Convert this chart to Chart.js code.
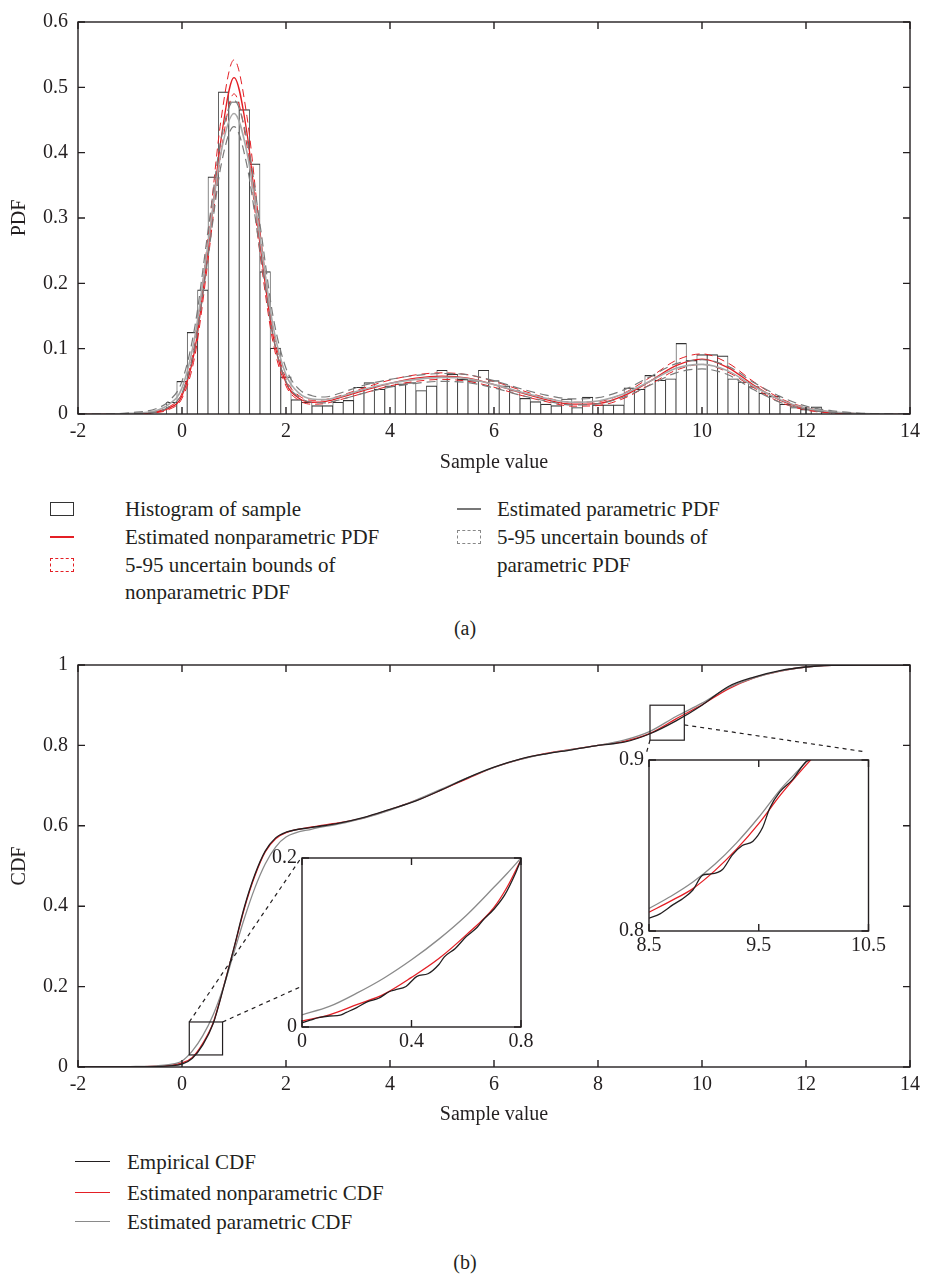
<!DOCTYPE html>
<html>
<head>
<meta charset="utf-8">
<script src="https://cdn.jsdelivr.net/npm/chart.js@4.4.1/dist/chart.umd.min.js"></script>
<style>
    body { margin: 0; background: #fff; }
    #page { position: relative; width: 926px; height: 1278px; font-family: "Liberation Serif", serif; color: #231f20; }
    canvas { position: absolute; }
    .lg { position: absolute; font-size: 21px; line-height: 28px; white-space: nowrap; }
    .sym { position: absolute; box-sizing: border-box; }
    .cap { position: absolute; font-size: 20px; line-height: 24px; width: 926px; left: 2px; text-align: center; }
</style>
</head>
<body>
<div id="page">
    <canvas id="pdfChart" width="926" height="480" style="left:0;top:0"></canvas>
    <canvas id="cdfChart" width="926" height="500" style="left:0;top:640px"></canvas>
    <canvas id="zoomA" width="290" height="215" style="left:252px;top:841px"></canvas>
    <canvas id="zoomB" width="290" height="217" style="left:599px;top:743px"></canvas>

    <!-- legenda (a) -->
    <div class="sym" style="left:50px;top:502px;width:24px;height:14px;border:1.3px solid #333"></div>
    <div class="lg" style="left:125px;top:495px">Histogram of sample</div>
    <div class="sym" style="left:50px;top:536px;width:24px;border-top:2px solid #e41f25"></div>
    <div class="lg" style="left:125px;top:523px">Estimated nonparametric PDF</div>
    <div class="sym" style="left:50px;top:558px;width:24px;height:14px;border:1px dashed #e41f25"></div>
    <div class="lg" style="left:125px;top:551px">5-95 uncertain bounds of</div>
    <div class="lg" style="left:125px;top:578px">nonparametric PDF</div>
    <div class="sym" style="left:457px;top:508px;width:24px;border-top:2px solid #777"></div>
    <div class="lg" style="left:497px;top:495px">Estimated parametric PDF</div>
    <div class="sym" style="left:457px;top:530px;width:24px;height:14px;border:1px dashed #888"></div>
    <div class="lg" style="left:497px;top:523px">5-95 uncertain bounds of</div>
    <div class="lg" style="left:497px;top:551px">parametric PDF</div>
    <div class="cap" style="top:616px">(a)</div>

    <!-- legenda (b) -->
    <div class="sym" style="left:75px;top:1161px;width:35px;border-top:1.5px solid #231f20"></div>
    <div class="lg" style="left:127px;top:1148px">Empirical CDF</div>
    <div class="sym" style="left:75px;top:1192px;width:35px;border-top:1.5px solid #e41f25"></div>
    <div class="lg" style="left:127px;top:1179px">Estimated nonparametric CDF</div>
    <div class="sym" style="left:75px;top:1221px;width:35px;border-top:1.5px solid #8a8a8a"></div>
    <div class="lg" style="left:127px;top:1208px">Estimated parametric CDF</div>
    <div class="cap" style="top:1250px">(b)</div>
</div>

<script>
// histograma (centros das classes de 0.2) e alturas
const binCenters = [-0.2, 0, 0.2, 0.4, 0.6, 0.8, 1, 1.2, 1.4, 1.6, 1.8, 2, 2.2, 2.4, 2.6, 2.8, 3, 3.2, 3.4, 3.6, 3.8, 4,
    4.2, 4.4, 4.6, 4.8, 5, 5.2, 5.4, 5.6, 5.8, 6, 6.2, 6.4, 6.6, 6.8, 7, 7.2, 7.4, 7.6, 7.8, 8, 8.2, 8.4, 8.6, 8.8,
    9, 9.2, 9.4, 9.6, 9.8, 10, 10.2, 10.4, 10.6, 10.8, 11, 11.2, 11.4, 11.6, 11.8, 12, 12.2, 12.4];
const binHeights = [0.018, 0.05, 0.125, 0.19, 0.363, 0.493, 0.478, 0.466, 0.383, 0.218, 0.101, 0.057, 0.022, 0.018,
    0.013, 0.013, 0.018, 0.021, 0.041, 0.048, 0.038, 0.043, 0.046, 0.048, 0.036, 0.043, 0.067, 0.061, 0.053, 0.051,
    0.067, 0.051, 0.043, 0.036, 0.024, 0.019, 0.015, 0.013, 0.023, 0.01, 0.026, 0.014, 0.014, 0.014, 0.04, 0.038,
    0.059, 0.052, 0.054, 0.108, 0.082, 0.091, 0.091, 0.089, 0.054, 0.049, 0.042, 0.032, 0.027, 0.015, 0.01, 0.007,
    0.011, 0.002];

// curvas de densidade
const pdfX = [-2, -1.5, -1, -0.5, -0.25, 0, 0.25, 0.5, 0.75, 1, 1.25, 1.5, 1.75, 2, 2.25, 2.5, 2.75, 3, 3.5, 4, 4.5,
    5, 5.5, 6, 6.5, 7, 7.5, 8, 8.5, 9, 9.5, 10, 10.5, 11, 11.5, 12, 12.5, 13, 13.5, 14];
const npPdf = [0, 0, 0, 0.003, 0.009, 0.028, 0.1, 0.25, 0.42, 0.515, 0.43, 0.26, 0.12, 0.048, 0.024, 0.018, 0.019,
    0.024, 0.036, 0.047, 0.055, 0.058, 0.055, 0.045, 0.033, 0.022, 0.015, 0.016, 0.028, 0.05, 0.074, 0.084, 0.071,
    0.044, 0.021, 0.008, 0.002, 0.0005, 0, 0];
const npPdfUp = [0, 0, 0.0003, 0.004, 0.011, 0.032, 0.11, 0.27, 0.45, 0.542, 0.455, 0.28, 0.13, 0.054, 0.028, 0.021,
    0.022, 0.027, 0.04, 0.052, 0.06, 0.063, 0.06, 0.05, 0.037, 0.025, 0.018, 0.019, 0.032, 0.056, 0.082, 0.092, 0.078,
    0.049, 0.024, 0.01, 0.003, 0.0008, 0.0001, 0];
const npPdfLo = [0, 0, 0, 0.002, 0.007, 0.024, 0.09, 0.235, 0.4, 0.49, 0.41, 0.245, 0.11, 0.043, 0.021, 0.015, 0.016,
    0.021, 0.032, 0.043, 0.05, 0.053, 0.05, 0.041, 0.029, 0.019, 0.012, 0.013, 0.024, 0.045, 0.067, 0.076, 0.064,
    0.04, 0.018, 0.006, 0.0015, 0.0003, 0, 0];
const parPdf = [0, 0, 0.001, 0.005, 0.015, 0.04, 0.12, 0.26, 0.4, 0.46, 0.4, 0.27, 0.135, 0.06, 0.032, 0.023, 0.022,
    0.026, 0.038, 0.047, 0.053, 0.056, 0.054, 0.045, 0.034, 0.024, 0.018, 0.02, 0.031, 0.05, 0.07, 0.076, 0.066,
    0.042, 0.022, 0.009, 0.0035, 0.001, 0.0002, 0];
const parPdfUp = [0, 0, 0.002, 0.008, 0.02, 0.05, 0.135, 0.28, 0.42, 0.48, 0.42, 0.29, 0.15, 0.07, 0.038, 0.028,
    0.026, 0.031, 0.044, 0.053, 0.059, 0.062, 0.06, 0.051, 0.039, 0.029, 0.023, 0.025, 0.037, 0.057, 0.077, 0.083,
    0.073, 0.048, 0.027, 0.012, 0.005, 0.0015, 0.0003, 0];
const parPdfLo = [0, 0, 0.0005, 0.003, 0.011, 0.032, 0.105, 0.24, 0.38, 0.44, 0.38, 0.25, 0.12, 0.05, 0.026, 0.018,
    0.017, 0.021, 0.032, 0.041, 0.047, 0.05, 0.048, 0.04, 0.029, 0.02, 0.014, 0.016, 0.026, 0.044, 0.063, 0.069,
    0.06, 0.037, 0.018, 0.007, 0.0025, 0.0007, 0.0001, 0];

// curvas acumuladas (gráfico b)
const cdfX = [-2, -1.5, -1, -0.5, -0.25, 0, 0.2, 0.4, 0.6, 0.8, 1, 1.2, 1.4, 1.6, 1.8, 2, 2.5, 3, 3.5, 4, 4.5, 5, 5.5,
    6, 6.5, 7, 7.5, 8, 8.5, 9, 9.5, 10, 10.5, 11, 11.5, 12, 12.5, 13, 14];
const empCdf = [0, 0, 0, 0.001, 0.003, 0.007, 0.022, 0.055, 0.108, 0.198, 0.297, 0.398, 0.478, 0.537, 0.57, 0.584,
    0.596, 0.606, 0.621, 0.641, 0.662, 0.69, 0.72, 0.746, 0.766, 0.779, 0.789, 0.8, 0.808, 0.829, 0.861, 0.9, 0.946,
    0.97, 0.986, 0.995, 0.999, 1, 1];
const npCdf = [0, 0, 0.0003, 0.002, 0.004, 0.01, 0.024, 0.059, 0.11, 0.2, 0.295, 0.395, 0.475, 0.535, 0.568, 0.583,
    0.597, 0.607, 0.62, 0.64, 0.663, 0.69, 0.718, 0.745, 0.765, 0.78, 0.79, 0.8, 0.81, 0.83, 0.866, 0.901, 0.94,
    0.968, 0.985, 0.995, 0.999, 1, 1];
const parCdf = [0, 0, 0.001, 0.003, 0.006, 0.015, 0.04, 0.078, 0.13, 0.2, 0.285, 0.37, 0.445, 0.505, 0.547, 0.572,
    0.592, 0.604, 0.619, 0.639, 0.664, 0.692, 0.72, 0.745, 0.765, 0.779, 0.79, 0.8, 0.813, 0.835, 0.872, 0.905, 0.943,
    0.968, 0.985, 0.995, 0.999, 1, 1];

// zoom perto de 0
const zoomAX = [0, 0.1, 0.2, 0.3, 0.4, 0.5, 0.6, 0.7, 0.75, 0.8];
const zoomANp = [0.007, 0.0144, 0.0265, 0.039, 0.0587, 0.081, 0.109, 0.141, 0.166, 0.198];
const zoomAPar = [0.0144, 0.0243, 0.04, 0.058, 0.0795, 0.104, 0.132, 0.165, 0.182, 0.2];
const zoomAEmpX = [0, 0.03, 0.06, 0.1, 0.14, 0.16, 0.2, 0.24, 0.28, 0.32, 0.34, 0.38, 0.42, 0.46, 0.5, 0.52, 0.56,
    0.6, 0.64, 0.66, 0.7, 0.74, 0.78, 0.8];
const zoomAEmp = [0.005, 0.008, 0.011, 0.013, 0.014, 0.017, 0.023, 0.03, 0.034, 0.042, 0.044, 0.048, 0.06, 0.063,
    0.074, 0.083, 0.093, 0.107, 0.118, 0.126, 0.139, 0.156, 0.182, 0.198];

// zoom perto de 9.5
const zoomBX = [8.5, 8.7, 8.9, 9.1, 9.3, 9.5, 9.7, 9.9, 10.1];
const zoomBNp = [0.811, 0.8176, 0.8248, 0.8353, 0.848, 0.8628, 0.8797, 0.8948, 0.909];
const zoomBPar = [0.8132, 0.8203, 0.8286, 0.839, 0.8517, 0.8665, 0.883, 0.8966, 0.911];
const zoomBEmpX = [8.5, 8.6, 8.72, 8.81, 8.9, 8.99, 9.05, 9.17, 9.26, 9.35, 9.445, 9.535, 9.6, 9.69, 9.81, 9.93,
    9.96, 10.1];
const zoomBEmp = [0.8075, 0.81, 0.8154, 0.819, 0.824, 0.8327, 0.8333, 0.836, 0.8445, 0.85, 0.8524, 0.8605, 0.8718,
    0.8812, 0.8887, 0.899, 0.9, 0.91];

// rótulos dos eixos
const pdfXTicks = [-2, 0, 2, 4, 6, 8, 10, 12, 14];
const pdfYTicks = [0, 0.1, 0.2, 0.3, 0.4, 0.5, 0.6];
const cdfYTicks = [0, 0.2, 0.4, 0.6, 0.8, 1];
const zoomAXTicks = [0, 0.4, 0.8];
const zoomAYTicks = [0, 0.2];
const zoomBXTicks = [8.5, 9.5, 10.5];
const zoomBYTicks = [0.8, 0.9];

const RED = '#e41f25';
const GREY = '#8a8a8a';
const INK = '#231f20';
const tickFont = { family: 'Liberation Serif', size: 20 };
const titleFont = { family: 'Liberation Serif', size: 20 };

const pts = (xs, ys) => xs.map((x, i) => ({ x: x, y: ys[i] }));
const fmt = v => String(Math.round(v * 100) / 100);

// moldura com marcas para dentro, estilo matlab
const framePlugin = {
    id: 'frame',
    beforeDraw(chart) {
        const { ctx, chartArea: a } = chart;
        ctx.save();
        ctx.fillStyle = '#fff';
        ctx.fillRect(a.left, a.top, a.right - a.left, a.bottom - a.top);
        ctx.restore();
    },
    afterDatasetsDraw(chart) {
        const { ctx, chartArea: a, scales } = chart;
        const len = 7;
        ctx.save();
        ctx.strokeStyle = INK;
        ctx.lineWidth = 1.4;
        ctx.strokeRect(a.left, a.top, a.right - a.left, a.bottom - a.top);
        ctx.beginPath();
        scales.x.ticks.forEach(t => {
            const px = scales.x.getPixelForValue(t.value);
            ctx.moveTo(px, a.bottom); ctx.lineTo(px, a.bottom - len);
            ctx.moveTo(px, a.top); ctx.lineTo(px, a.top + len);
        });
        scales.y.ticks.forEach(t => {
            const py = scales.y.getPixelForValue(t.value);
            ctx.moveTo(a.left, py); ctx.lineTo(a.left + len, py);
            ctx.moveTo(a.right, py); ctx.lineTo(a.right - len, py);
        });
        ctx.stroke();
        ctx.restore();
    }
};

function axis(min, max, ticks, pad, extra) {
    return Object.assign({
        type: 'linear', min: min, max: max, offset: false,
        grid: { display: false, drawTicks: false }, border: { display: false },
        afterBuildTicks: s => { s.ticks = ticks.map(v => ({ value: v })); },
        ticks: { font: tickFont, color: INK, padding: pad, autoSkip: false, maxRotation: 0, callback: fmt }
    }, extra);
}

function line(data, color, width, dash) {
    return {
        type: 'line', data: data, borderColor: color, borderWidth: width, borderDash: dash || [],
        pointRadius: 0, fill: false, cubicInterpolationMode: 'monotone', order: 1
    };
}

// (a) histograma + PDFs
new Chart(document.getElementById('pdfChart'), {
    type: 'bar',
    data: {
        datasets: [
            line(pts(pdfX, parPdfUp), '#7a7a7a', 1.2, [9, 5]),
            line(pts(pdfX, parPdfLo), '#7a7a7a', 1.2, [9, 5]),
            line(pts(pdfX, parPdf), '#a8a8a8', 1.6),
            line(pts(pdfX, npPdfUp), RED, 1, [8, 5]),
            line(pts(pdfX, npPdfLo), RED, 1, [8, 5]),
            line(pts(pdfX, npPdf), RED, 1.3),
            {
                type: 'bar', data: pts(binCenters, binHeights), backgroundColor: '#fff', borderColor: '#333',
                borderWidth: { top: 1.2, left: 0.8, right: 0.8, bottom: 0 }, borderSkipped: 'start',
                barPercentage: 1, categoryPercentage: 1, order: 10
            }
        ]
    },
    options: {
        responsive: false, animation: false,
        layout: { padding: { left: 0, top: 14, right: 12, bottom: 5 } },
        plugins: { legend: { display: false }, tooltip: { enabled: false } },
        scales: {
            x: axis(-2, 14, pdfXTicks, 6, {
                afterFit: s => { s.height = 61; },
                title: { display: true, text: 'Sample value', font: titleFont, color: INK, padding: 0 }
            }),
            y: axis(0, 0.6, pdfYTicks, 10, {
                afterFit: s => { s.width = 78; },
                title: { display: true, text: 'PDF', font: titleFont, color: INK, padding: { top: 8, bottom: 0 } }
            })
        }
    },
    plugins: [framePlugin]
});

// caixas de zoom e linhas tracejadas ligando aos detalhes
const zoomBoxes = [
    { x0: 0.14, x1: 0.78, y0: 0.03, y1: 0.112, links: [[0.14, 0.112, 2.29, 0.52], [0.78, 0.112, 2.29, 0.2]] },
    { x0: 9.0, x1: 9.66, y0: 0.813, y1: 0.9, links: [[9.0, 0.813, 8.93, 0.781], [9.66, 0.851, 13.14, 0.784]] }
];
const zoomPlugin = {
    id: 'zoomMarks',
    afterDatasetsDraw(chart) {
        const { ctx, scales: { x, y } } = chart;
        ctx.save();
        ctx.strokeStyle = INK;
        ctx.lineWidth = 1.2;
        zoomBoxes.forEach(b => {
            ctx.setLineDash([]);
            ctx.strokeRect(x.getPixelForValue(b.x0), y.getPixelForValue(b.y1),
                x.getPixelForValue(b.x1) - x.getPixelForValue(b.x0), y.getPixelForValue(b.y0) - y.getPixelForValue(b.y1));
            ctx.setLineDash([4, 4]);
            b.links.forEach(l => {
                ctx.beginPath();
                ctx.moveTo(x.getPixelForValue(l[0]), y.getPixelForValue(l[1]));
                ctx.lineTo(x.getPixelForValue(l[2]), y.getPixelForValue(l[3]));
                ctx.stroke();
            });
        });
        ctx.restore();
    }
};

function cdfLines(xs, emp, np, par, empX) {
    return [
        line(pts(empX || xs, emp), INK, 1.3),
        line(pts(xs, par), GREY, 1.3),
        line(pts(xs, np), RED, 1.3)
    ];
}

// (b) CDFs
new Chart(document.getElementById('cdfChart'), {
    type: 'line',
    data: { datasets: cdfLines(cdfX, empCdf, npCdf, parCdf) },
    options: {
        responsive: false, animation: false,
        layout: { padding: { left: 0, top: 25, right: 12, bottom: 13 } },
        plugins: { legend: { display: false }, tooltip: { enabled: false } },
        scales: {
            x: axis(-2, 14, pdfXTicks, 6, {
                afterFit: s => { s.height = 60; },
                title: { display: true, text: 'Sample value', font: titleFont, color: INK, padding: 0 }
            }),
            y: axis(0, 1, cdfYTicks, 10, {
                afterFit: s => { s.width = 78; },
                title: { display: true, text: 'CDF', font: titleFont, color: INK, padding: { top: 8, bottom: 0 } }
            })
        }
    },
    plugins: [zoomPlugin, framePlugin]
});

function inset(id, xs, emp, np, par, empX, xr, yr, xt, yt, padRight) {
    new Chart(document.getElementById(id), {
        type: 'line',
        data: { datasets: cdfLines(xs, emp, np, par, empX) },
        options: {
            responsive: false, animation: false,
            layout: { padding: { left: 0, top: 10, right: padRight, bottom: 0 } },
            plugins: { legend: { display: false }, tooltip: { enabled: false } },
            scales: {
                x: axis(xr[0], xr[1], xt, 3, { afterFit: s => { s.height = 29; } }),
                y: axis(yr[0], yr[1], yt, 5, { afterFit: s => { s.width = 50; } })
            }
        },
        plugins: [framePlugin]
    });
}
inset('zoomA', zoomAX, zoomAEmp, zoomANp, zoomAPar, zoomAEmpX, [0, 0.8], [0, 0.2], zoomAXTicks, zoomAYTicks, 21);
inset('zoomB', zoomBX, zoomBEmp, zoomBNp, zoomBPar, zoomBEmpX, [8.5, 10.5], [0.8, 0.9], zoomBXTicks, zoomBYTicks, 20);
</script>
</body>
</html>
